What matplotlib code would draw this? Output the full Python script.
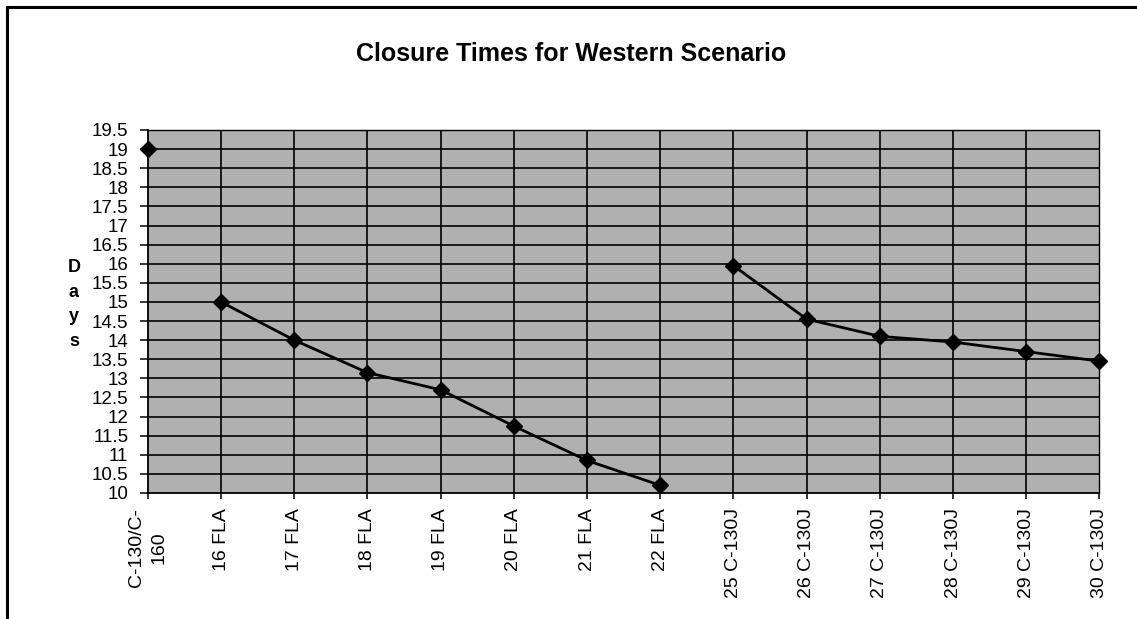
import numpy as np
import matplotlib
matplotlib.use("Agg")
import matplotlib.pyplot as plt
from matplotlib.lines import Line2D

plt.rcParams['font.family'] = ['Liberation Sans', 'DejaVu Sans']

# aircraft options and closure time (days)
categories = ['C-130/C-\n160', '16 FLA', '17 FLA', '18 FLA', '19 FLA', '20 FLA', '21 FLA',
              '22 FLA', '25 C-130J', '26 C-130J', '27 C-130J', '28 C-130J', '29 C-130J',
              '30 C-130J']
days = [19.0, 15.0, 14.0, 13.15, 12.7, 11.75, 10.85,
        10.2, 15.95, 14.55, 14.1, 13.95, 13.7, 13.45]
# line segments (point indices joined by a line)
segments = [[0], [1, 2, 3, 4, 5, 6, 7], [8, 9, 10, 11, 12, 13]]

yticks = np.arange(10, 19.51, 0.5)
ylabels = [f"{t:g}" for t in yticks]

fig = plt.figure(figsize=(11.37, 6.19), dpi=100)
ax = fig.add_axes([0.130, 0.2036, 0.837, 0.5864])
ax.set_facecolor('#b0b0b0')

x = np.arange(len(categories))
ax.set_xlim(0, len(categories) - 1)
ax.set_ylim(10, 19.5)

# grid inside the plot area (edges at the top / right stay dotted)
ax.hlines(yticks[1:-1], 0, len(categories) - 1, color='black', lw=1.2, zorder=1)
ax.vlines(x[1:-1], 10, 19.5, color='black', lw=1.2, zorder=1)

for seg in segments:
    ax.plot(x[seg], [days[i] for i in seg], color='black', lw=2,
            marker='D', markersize=8, zorder=3, clip_on=False)

ax.set_xticks(x)
ax.set_xticklabels(categories, rotation=90, fontsize=14, va='top', ha='center',
                   linespacing=1.45)
ax.set_yticks(yticks)
ax.set_yticklabels(ylabels, fontsize=13.5)
ax.tick_params(axis='x', direction='out', length=4, width=1.1, color='black', pad=7)
ax.tick_params(axis='y', direction='out', length=6, width=1.1, color='black', pad=8)

for side in ['left', 'bottom']:
    ax.spines[side].set_linewidth(1.3)
for side in ['top', 'right']:
    ax.spines[side].set_linewidth(1.0)
    ax.spines[side].set_linestyle((0, (1, 1)))

# stacked "Days" label
fig.text(0.065, 0.508, 'D\na\ny\ns', fontsize=13, fontweight='bold', ha='center',
         va='center', linespacing=1.6)

fig.text(0.502, 0.913, 'Closure Times for Western Scenario', fontsize=18,
         fontweight='bold', ha='center', va='center')

# outer frame: left and top edges
fig.add_artist(Line2D([0.006, 0.006], [0.0, 0.988], transform=fig.transFigure,
                      color='black', lw=2.2))
fig.add_artist(Line2D([0.006, 1.0], [0.988, 0.988], transform=fig.transFigure,
                      color='black', lw=2.2))

fig.savefig('out.png', dpi=100)
